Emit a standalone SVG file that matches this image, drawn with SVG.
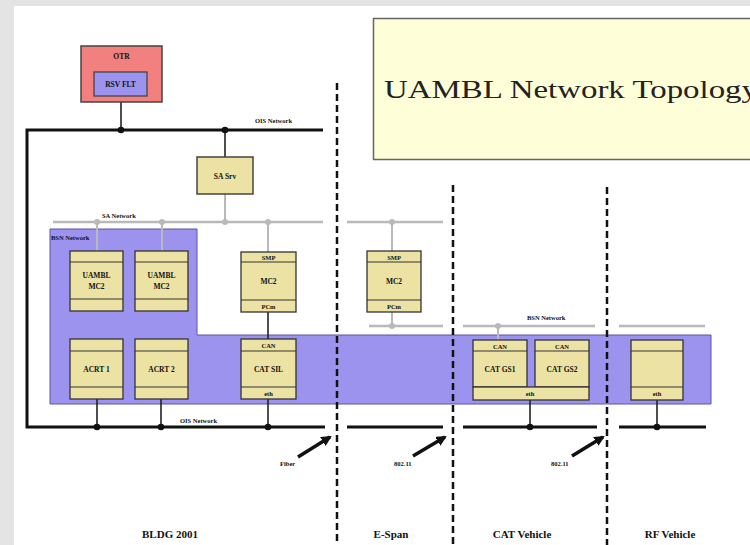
<svg xmlns="http://www.w3.org/2000/svg" width="750" height="545" viewBox="0 0 750 545">
  <defs>
    <style>
      .lbl { font-family: "Liberation Serif", "Times New Roman", serif; font-weight: bold; fill: #111; }
      .tiny { font-size: 6.5px; }
      .small { font-size: 7.5px; }
      .zone { font-size: 11px; }
      .box { fill: #ebe2a4; stroke: #333; stroke-width: 1.3; }
      .band { stroke: #333; stroke-width: 1.1; }
      .bus { stroke: #111; stroke-width: 3; fill: none; }
      .gbus { stroke: #b9b9b9; stroke-width: 2.5; fill: none; }
      .link { stroke: #222; stroke-width: 1.6; fill: none; }
      .glink { stroke: #b9b9b9; stroke-width: 2; fill: none; }
      .dot { fill: #111; }
      .gdot { fill: #b9b9b9; }
      .divider { stroke: #111; stroke-width: 2.5; stroke-dasharray: 7 4; fill: none; }
      .arrow { stroke: #111; stroke-width: 3.5; fill: none; }
    </style>
    <marker id="head" viewBox="0 0 10 10" refX="8" refY="5" markerWidth="3" markerHeight="3" orient="auto" markerUnits="strokeWidth">
      <path d="M0,0 L10,5 L0,10 z" fill="#111"/>
    </marker>
  </defs>

  <!-- page background -->
  <rect x="0" y="0" width="750" height="545" fill="#ffffff"/>
  <rect x="0" y="0" width="750" height="6" fill="#e3e3e3"/>
  <rect x="0" y="0" width="14" height="545" fill="#e4e4e4"/>

  <!-- title -->
  <g id="title">
    <rect x="373.5" y="18.5" width="390" height="141" fill="#fefed8" stroke="#666" stroke-width="1.5"/>
    <text x="384" y="98" font-family="Liberation Serif, 'Times New Roman', serif" font-size="26" fill="#222" textLength="374" lengthAdjust="spacingAndGlyphs">UAMBL Network Topology</text>
  </g>

  <!-- BSN network region -->
  <g id="bsn-region">
    <polygon points="50,229 197,229 197,335 711,335 711,404 50,404" fill="#9c93ef" stroke="#5a52a8" stroke-width="1"/>
    <text class="lbl tiny" x="51" y="240">BSN Network</text>
  </g>

  <!-- connectors: buses and links -->
  <g id="connectors">
    <!-- OIS network, building -->
    <polyline class="bus" points="323,130 27,130 27,427 325,427"/>
    <text class="lbl tiny" x="255" y="123">OIS Network</text>
    <text class="lbl tiny" x="180" y="423">OIS Network</text>
    <line class="bus" x1="347" y1="427" x2="443" y2="427"/>
    <line class="bus" x1="463" y1="427" x2="597" y2="427"/>
    <line class="bus" x1="619" y1="427" x2="706" y2="427"/>

    <!-- SA network -->
    <line class="gbus" x1="53" y1="222" x2="323" y2="222"/>
    <line class="gbus" x1="347" y1="222" x2="443" y2="222"/>
    <text class="lbl tiny" x="102" y="218">SA Network</text>

    <!-- BSN network, outside the building -->
    <line class="gbus" x1="369" y1="326" x2="443" y2="326"/>
    <line class="gbus" x1="463" y1="326" x2="595" y2="326"/>
    <line class="gbus" x1="619" y1="326" x2="705" y2="326"/>
    <text class="lbl tiny" x="527" y="320">BSN Network</text>

    <!-- OIS drops -->
    <line class="link" x1="121" y1="102" x2="121" y2="130"/>
    <line class="link" x1="225" y1="130" x2="225" y2="157"/>
    <line class="link" x1="97" y1="399" x2="97" y2="427"/>
    <line class="link" x1="161" y1="399" x2="161" y2="427"/>
    <line class="link" x1="268" y1="312" x2="268" y2="427"/>
    <line class="link" x1="530" y1="400" x2="530" y2="427"/>
    <line class="link" x1="657" y1="400" x2="657" y2="427"/>

    <!-- SA drops -->
    <line class="glink" x1="225" y1="194" x2="225" y2="222"/>
    <line class="glink" x1="97" y1="222" x2="97" y2="251"/>
    <line class="glink" x1="162" y1="222" x2="162" y2="251"/>
    <line class="glink" x1="268" y1="222" x2="268" y2="252"/>
    <line class="glink" x1="392" y1="222" x2="392" y2="251"/>
    <line class="glink" x1="392" y1="312" x2="392" y2="326"/>
    <line class="glink" x1="498" y1="326" x2="498" y2="340"/>

    <!-- junction dots -->
    <circle class="dot" cx="121" cy="130" r="3.3"/>
    <circle class="dot" cx="225" cy="130" r="3.3"/>
    <circle class="dot" cx="97" cy="427" r="3.3"/>
    <circle class="dot" cx="161" cy="427" r="3.3"/>
    <circle class="dot" cx="268" cy="427" r="3.3"/>
    <circle class="dot" cx="530" cy="427" r="3.3"/>
    <circle class="dot" cx="657" cy="427" r="3.3"/>
    <circle class="gdot" cx="97" cy="222" r="3"/>
    <circle class="gdot" cx="162" cy="222" r="3"/>
    <circle class="gdot" cx="225" cy="222" r="3"/>
    <circle class="gdot" cx="268" cy="222" r="3"/>
    <circle class="gdot" cx="392" cy="222" r="3"/>
    <circle class="gdot" cx="392" cy="326" r="3"/>
    <circle class="gdot" cx="498" cy="326" r="3"/>

    <!-- wireless / fiber links across zones -->
    <line class="arrow" x1="298" y1="457" x2="330" y2="437" marker-end="url(#head)"/>
    <line class="arrow" x1="413" y1="456" x2="445" y2="437" marker-end="url(#head)"/>
    <line class="arrow" x1="572" y1="456" x2="603" y2="437" marker-end="url(#head)"/>
    <text class="lbl tiny" x="280" y="466">Fiber</text>
    <text class="lbl tiny" x="394" y="466">802.11</text>
    <text class="lbl tiny" x="551" y="466">802.11</text>
  </g>

  <!-- OTR -->
  <g id="otr">
    <rect x="81" y="46" width="81" height="56" fill="#f2807f" stroke="#444" stroke-width="1.5"/>
    <text class="lbl small" x="121.5" y="59" text-anchor="middle">OTR</text>
    <rect x="94" y="72" width="53" height="24" fill="#9c93ef" stroke="#444" stroke-width="1.3"/>
    <text class="lbl small" x="120.5" y="87" text-anchor="middle">RSV FLT</text>
  </g>

  <!-- SA server -->
  <g id="sa-srv">
    <rect x="197" y="157" width="56" height="37" fill="#ebe2a4" stroke="#444" stroke-width="1.5"/>
    <text class="lbl small" x="225" y="179" text-anchor="middle">SA Srv</text>
  </g>

  <!-- building processors -->
  <g id="uambl-mc2-1">
    <rect class="box" x="70" y="251" width="53" height="60"/>
    <line class="band" x1="70" y1="262" x2="123" y2="262"/>
    <line class="band" x1="70" y1="299" x2="123" y2="299"/>
    <text class="lbl small" x="96.5" y="278" text-anchor="middle">UAMBL</text>
    <text class="lbl small" x="96.5" y="289" text-anchor="middle">MC2</text>
  </g>
  <g id="uambl-mc2-2">
    <rect class="box" x="135" y="251" width="53" height="60"/>
    <line class="band" x1="135" y1="262" x2="188" y2="262"/>
    <line class="band" x1="135" y1="299" x2="188" y2="299"/>
    <text class="lbl small" x="161.5" y="278" text-anchor="middle">UAMBL</text>
    <text class="lbl small" x="161.5" y="289" text-anchor="middle">MC2</text>
  </g>
  <g id="acrt-1">
    <rect class="box" x="70" y="339" width="53" height="60"/>
    <line class="band" x1="70" y1="351" x2="123" y2="351"/>
    <line class="band" x1="70" y1="387" x2="123" y2="387"/>
    <text class="lbl small" x="96.5" y="372" text-anchor="middle">ACRT 1</text>
  </g>
  <g id="acrt-2">
    <rect class="box" x="135" y="339" width="53" height="60"/>
    <line class="band" x1="135" y1="351" x2="188" y2="351"/>
    <line class="band" x1="135" y1="387" x2="188" y2="387"/>
    <text class="lbl small" x="161.5" y="372" text-anchor="middle">ACRT 2</text>
  </g>
  <g id="mc2-bldg">
    <rect class="box" x="241" y="252" width="55" height="60"/>
    <line class="band" x1="241" y1="262" x2="296" y2="262"/>
    <line class="band" x1="241" y1="300" x2="296" y2="300"/>
    <text class="lbl tiny" x="268.5" y="260" text-anchor="middle">SMP</text>
    <text class="lbl small" x="268.5" y="284" text-anchor="middle">MC2</text>
    <text class="lbl tiny" x="268.5" y="309" text-anchor="middle">PCm</text>
  </g>
  <g id="cat-sil">
    <rect class="box" x="241" y="339" width="55" height="60"/>
    <line class="band" x1="241" y1="351" x2="296" y2="351"/>
    <line class="band" x1="241" y1="387" x2="296" y2="387"/>
    <text class="lbl tiny" x="268.5" y="348" text-anchor="middle">CAN</text>
    <text class="lbl small" x="268.5" y="372" text-anchor="middle">CAT SIL</text>
    <text class="lbl tiny" x="268.5" y="396" text-anchor="middle">eth</text>
  </g>

  <!-- E-Span processor -->
  <g id="mc2-espan">
    <rect class="box" x="367" y="251" width="54" height="61"/>
    <line class="band" x1="367" y1="262" x2="421" y2="262"/>
    <line class="band" x1="367" y1="300" x2="421" y2="300"/>
    <text class="lbl tiny" x="394" y="260" text-anchor="middle">SMP</text>
    <text class="lbl small" x="394" y="284" text-anchor="middle">MC2</text>
    <text class="lbl tiny" x="394" y="309" text-anchor="middle">PCm</text>
  </g>

  <!-- CAT vehicle processors -->
  <g id="cat-gs">
    <rect class="box" x="473" y="340" width="54" height="47"/>
    <rect class="box" x="535" y="340" width="54" height="47"/>
    <rect class="box" x="473" y="387" width="116" height="13"/>
    <line class="band" x1="473" y1="351" x2="527" y2="351"/>
    <line class="band" x1="535" y1="351" x2="589" y2="351"/>
    <text class="lbl tiny" x="500" y="349" text-anchor="middle">CAN</text>
    <text class="lbl tiny" x="562" y="349" text-anchor="middle">CAN</text>
    <text class="lbl small" x="500" y="372" text-anchor="middle">CAT GS1</text>
    <text class="lbl small" x="562" y="372" text-anchor="middle">CAT GS2</text>
    <text class="lbl tiny" x="530" y="396" text-anchor="middle">eth</text>
  </g>

  <!-- RF vehicle processor -->
  <g id="rf-proc">
    <rect class="box" x="631" y="340" width="52" height="60"/>
    <line class="band" x1="631" y1="351" x2="683" y2="351"/>
    <line class="band" x1="631" y1="387" x2="683" y2="387"/>
    <text class="lbl tiny" x="657" y="396" text-anchor="middle">eth</text>
  </g>

  <!-- zone dividers -->
  <g id="dividers">
    <line class="divider" x1="337" y1="83" x2="337" y2="545"/>
    <line class="divider" x1="453" y1="185" x2="453" y2="545"/>
    <line class="divider" x1="607" y1="187" x2="607" y2="545"/>
  </g>

  <!-- zone names -->
  <g id="zones">
    <text class="lbl zone" x="170" y="538" text-anchor="middle">BLDG 2001</text>
    <text class="lbl zone" x="391" y="538" text-anchor="middle">E-Span</text>
    <text class="lbl zone" x="522" y="538" text-anchor="middle">CAT Vehicle</text>
    <text class="lbl zone" x="670" y="538" text-anchor="middle">RF Vehicle</text>
  </g>
</svg>
